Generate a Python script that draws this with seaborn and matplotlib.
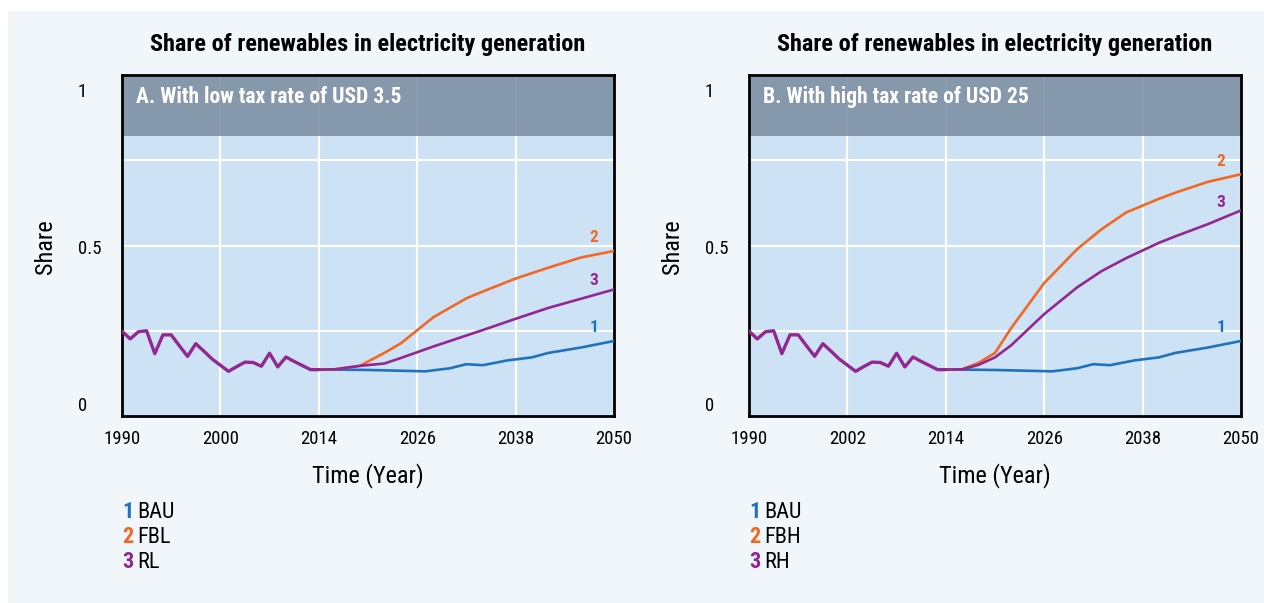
import pandas as pd
import seaborn as sns
import matplotlib.pyplot as plt
from matplotlib.patches import Rectangle

# historical share (same in both panels)
hist_years = list(range(1990, 2015))
hist_share = [0.249, 0.226, 0.247, 0.250, 0.183, 0.238, 0.238, 0.206, 0.175, 0.212,
              0.190, 0.167, 0.149, 0.131, 0.145, 0.158, 0.157, 0.146, 0.184, 0.144,
              0.173, 0.160, 0.148, 0.136, 0.136]

# business as usual
bau_years = [2014, 2016, 2020, 2027, 2030, 2032, 2034, 2037, 2040, 2042, 2046, 2050]
bau_share = [0.136, 0.136, 0.135, 0.131, 0.140, 0.152, 0.149, 0.163, 0.172, 0.185, 0.201, 0.220]

# panel A, low tax
low_years = [2014, 2016, 2019, 2022, 2024, 2028, 2032, 2034, 2038, 2042, 2046, 2050]
fbl_share = [0.136, 0.137, 0.147, 0.185, 0.213, 0.290, 0.345, 0.365, 0.403, 0.435, 0.465, 0.484]
rl_share = [0.136, 0.137, 0.147, 0.154, 0.170, 0.204, 0.236, 0.252, 0.285, 0.317, 0.344, 0.371]

# panel B, high tax
high_years = [2014, 2016, 2018, 2020, 2022, 2026, 2030, 2033, 2036, 2040, 2042, 2046, 2050]
fbh_share = [0.136, 0.137, 0.156, 0.185, 0.259, 0.390, 0.489, 0.548, 0.597, 0.637, 0.655, 0.687, 0.709]
rh_share = [0.136, 0.137, 0.150, 0.172, 0.208, 0.299, 0.377, 0.425, 0.463, 0.508, 0.527, 0.563, 0.603]

x_ticks = [1990, 2002, 2014, 2026, 2038, 2050]
left_xlabels = ["1990", "2000", "2014", "2026", "2038", "2050"]
right_xlabels = ["1990", "2002", "2014", "2026", "2038", "2050"]
y_labels = ["0", "0.5", "1"]

title = "Share of renewables in electricity generation"
panel_titles = ["A. With low tax rate of USD 3.5", "B. With high tax rate of USD 25"]
legend_names = [["BAU", "FBL", "RL"], ["BAU", "FBH", "RH"]]

BLUE = "#2072bd"
ORANGE = "#f26722"
PURPLE = "#92278f"
colors = [BLUE, ORANGE, PURPLE]

sns.set_style("white")
plt.rcParams['font.family'] = ['Roboto Condensed', 'Liberation Sans', 'DejaVu Sans']
for key in ["text.color", "axes.labelcolor", "xtick.color", "ytick.color"]:
    plt.rcParams[key] = "black"

fig = plt.figure(figsize=(12.64, 6.03), dpi=100)
fig.patch.set_facecolor("white")
bg = Rectangle((8 / 1264, 0), 1, 1 - 11 / 603, transform=fig.transFigure,
               facecolor="#f1f6fa", edgecolor="none", zorder=-10)
fig.add_artist(bg)

axes = [fig.add_axes([0.0965, 0.3101, 0.3892, 0.5655]),
        fig.add_axes([0.5926, 0.3101, 0.3892, 0.5655])]

panels = [(low_years, fbl_share, rl_share, left_xlabels),
          (high_years, fbh_share, rh_share, right_xlabels)]

for i, ax in enumerate(axes):
    yrs, s2, s3, xlabels = panels[i]
    ax.set_facecolor("#cde3f5")

    # long table for seaborn
    df = pd.concat([
        pd.DataFrame({"year": bau_years, "share": bau_share, "scen": "1"}),
        pd.DataFrame({"year": yrs, "share": s2, "scen": "2"}),
        pd.DataFrame({"year": yrs, "share": s3, "scen": "3"}),
    ])
    sns.lineplot(data=df, x="year", y="share", hue="scen", palette=colors,
                 linewidth=1.9, legend=False, ax=ax, zorder=3)
    hist = pd.DataFrame({"year": hist_years, "share": hist_share})
    sns.lineplot(data=hist, x="year", y="share", color=PURPLE, linewidth=2.4, ax=ax, zorder=4)

    # end labels
    ends = [bau_share[-1], s2[-1], s3[-1]]
    offs = [13, 13, 9] if i == 0 else [13, 13, 8]
    for k in range(3):
        ax.annotate(str(k + 1), xy=(2050, ends[k]), xytext=(-20, offs[k]), textcoords="offset pixels",
                    ha="center", va="center", color=colors[k], fontsize=12.5, fontweight="bold")

    ax.set_xlim(1990, 2050)
    ax.set_ylim(0, 1)

    # grey header band
    ax.axhspan(0.82, 1.0, facecolor="#7d8ea1", alpha=0.88, edgecolor="none", zorder=0.6)
    ax.text(0.028, 0.935, panel_titles[i], transform=ax.transAxes, color="white",
            fontsize=15.5, fontweight="bold", va="center", ha="left", zorder=5)

    # grid
    ax.set_xticks(x_ticks)
    ax.set_xticklabels(xlabels, fontsize=13.5)
    ax.set_yticks([0.25, 0.5, 0.75], minor=True)
    ax.set_yticks([0.035, 0.496, 0.956])
    ax.set_yticklabels(y_labels, fontsize=13.5)
    ax.grid(True, axis="x", which="major", color="white", linewidth=1.5, zorder=0.5)
    ax.grid(True, axis="y", which="minor", color="white", linewidth=1.5, zorder=0.5)
    ax.grid(False, axis="y", which="major")
    ax.set_axisbelow(True)
    ax.tick_params(axis="both", which="both", length=0)
    ax.tick_params(axis="x", pad=10)
    ax.tick_params(axis="y", pad=32)
    for lab in ax.get_yticklabels():
        lab.set_horizontalalignment("left")

    for sp in ax.spines.values():
        sp.set_visible(True)
        sp.set_color("black")
        sp.set_linewidth(2)

    ax.set_xlabel("Time (Year)", fontsize=17.5)
    ax.xaxis.set_label_coords(0.5, -0.176)
    ax.xaxis.label.set_va("center")
    ax.set_ylabel("Share", fontsize=17.5)
    ax.yaxis.set_label_coords(-0.155, 0.496)
    ax.yaxis.label.set_va("center")

    ax.text(0.5, 1.09, title, transform=ax.transAxes, ha="center", va="center",
            fontsize=17.5, fontweight="bold")

    # legend under the panel
    for k in range(3):
        y = -0.282 - 0.0733 * k
        ax.text(0.0, y, str(k + 1), transform=ax.transAxes, color=colors[k],
                fontsize=16, fontweight="bold", va="center", ha="left")
        ax.text(0.031, y, legend_names[i][k], transform=ax.transAxes, color="black",
                fontsize=16, va="center", ha="left")

fig.savefig("out.png", dpi=100, facecolor=fig.get_facecolor())
